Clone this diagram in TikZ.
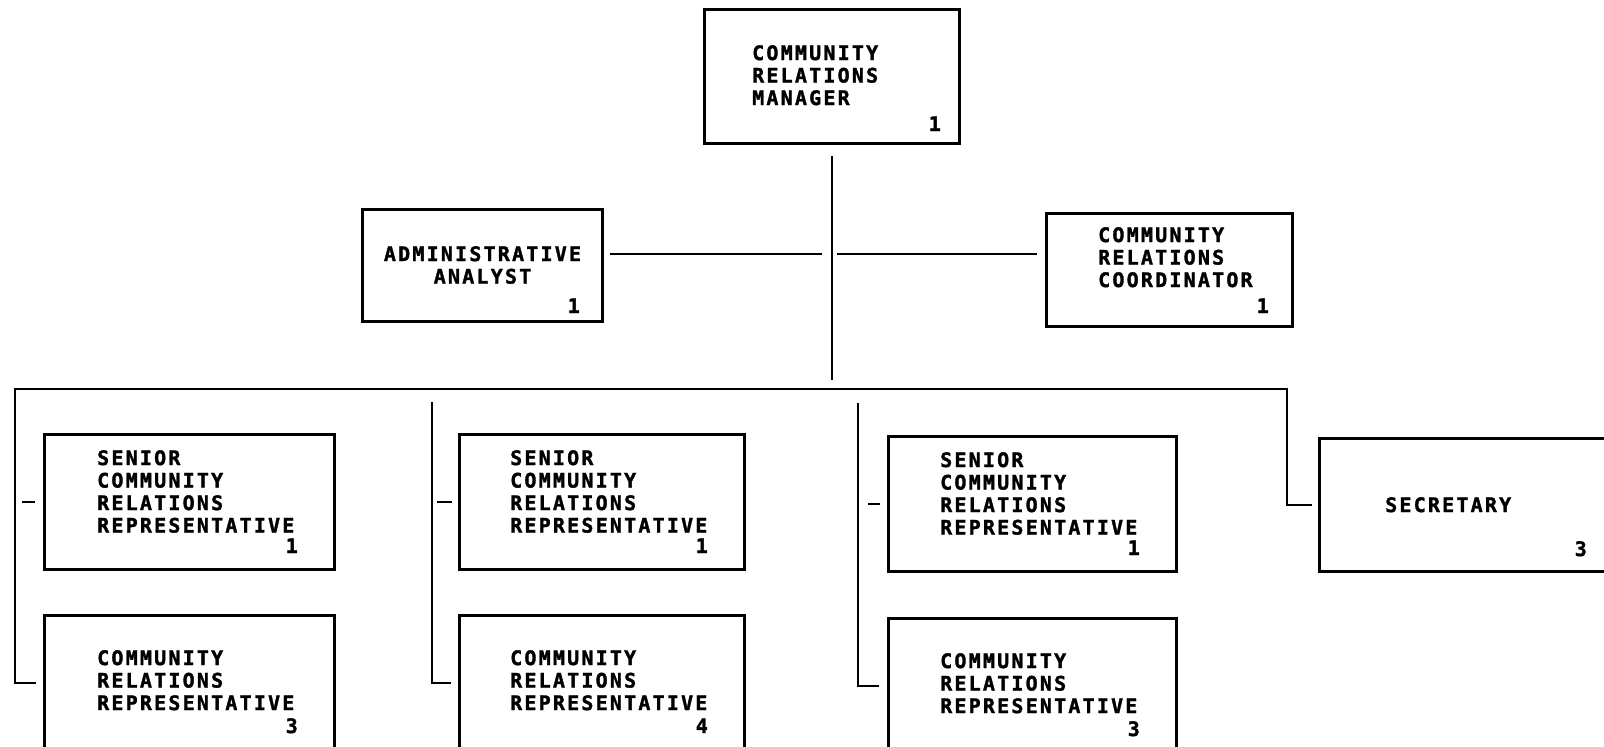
\documentclass[tikz,border=0pt]{standalone}
\usepackage{fontspec}
\newfontfamily\plotfont[LetterSpace=11, FakeBold=1.6]{DejaVu Sans Mono Bold}
\usetikzlibrary{positioning}

\begin{document}
\begin{tikzpicture}[
    x=1pt, y=-1pt,
    font=\plotfont\fontsize{20}{22.5}\selectfont,
    post/.style={draw, line width=3pt, anchor=north west, inner sep=0pt, minimum height=135pt},
    title/.style={anchor=north west, align=left, inner sep=0pt},
    cnt/.style={anchor=base east, inner sep=0pt},
    link/.style={line width=2.6pt}
]
\useasboundingbox (0,0) rectangle (1604,747);

% Manager
\node[post, minimum width=255pt, minimum height=134pt,
      label={[title, xshift=49pt, yshift=-37pt]north west:COMMUNITY\\RELATIONS\\MANAGER},
      label={[cnt, xshift=-20pt, yshift=14pt]south east:1}] (mgr) at (703,8) {};

% Staff
\node[post, minimum width=240pt, minimum height=112pt,
      label={[title, anchor=north, align=center, yshift=-38pt]north:ADMINISTRATIVE\\ANALYST},
      label={[cnt, xshift=-24pt, yshift=10pt]south east:1}] (analyst) at (361,208) {};
\node[post, minimum width=246pt, minimum height=113pt,
      label={[title, xshift=53pt, yshift=-15pt]north west:COMMUNITY\\RELATIONS\\COORDINATOR},
      label={[cnt, xshift=-25pt, yshift=15pt]south east:1}] (coord) at (1045,212) {};

% Senior representatives
\node[post, minimum width=290pt,
      label={[title, xshift=54pt, yshift=-17pt]north west:SENIOR\\COMMUNITY\\RELATIONS\\REPRESENTATIVE},
      label={[cnt, xshift=-38pt, yshift=18pt]south east:1}] (sen1) at (43,433) {};
\node[post, minimum width=285pt,
      label={[title, xshift=52pt, yshift=-17pt]north west:SENIOR\\COMMUNITY\\RELATIONS\\REPRESENTATIVE},
      label={[cnt, xshift=-38pt, yshift=18pt]south east:1}] (sen2) at (458,433) {};
\node[post, minimum width=288pt,
      label={[title, xshift=53pt, yshift=-17pt]north west:SENIOR\\COMMUNITY\\RELATIONS\\REPRESENTATIVE},
      label={[cnt, xshift=-38pt, yshift=18pt]south east:1}] (sen3) at (887,435) {};

% Representatives
\node[post, minimum width=290pt, below=43pt of sen1,
      label={[title, xshift=54pt, yshift=-36pt]north west:COMMUNITY\\RELATIONS\\REPRESENTATIVE},
      label={[cnt, xshift=-38pt, yshift=19pt]south east:3}] (rep1) {};
\node[post, minimum width=285pt, below=43pt of sen2,
      label={[title, xshift=52pt, yshift=-36pt]north west:COMMUNITY\\RELATIONS\\REPRESENTATIVE},
      label={[cnt, xshift=-38pt, yshift=19pt]south east:4}] (rep2) {};
\node[post, minimum width=288pt, below=44pt of sen3,
      label={[title, xshift=53pt, yshift=-36pt]north west:COMMUNITY\\RELATIONS\\REPRESENTATIVE},
      label={[cnt, xshift=-38pt, yshift=19pt]south east:3}] (rep3) {};

% Secretary
\node[post, minimum width=290pt, minimum height=133pt,
      label={[title, xshift=67pt, yshift=-60pt]north west:SECRETARY},
      label={[cnt, xshift=-24pt, yshift=17pt]south east:3}] (sec) at (1318,437) {};

% Lines
\coordinate (busL) at (15,389);
\coordinate (busR) at (1287,389);
\coordinate (tie) at (830,254);
\coordinate (drop2) at (432,402);
\coordinate (drop3) at (858,403);

\draw[link, shorten <=11pt, shorten >=9pt] (mgr) -- (mgr |- busL);
\draw[link, shorten <=6pt, shorten >=8pt] (analyst.east |- tie) -- (tie);
\draw[link, shorten <=7pt, shorten >=8pt] (tie) -- (coord.west |- tie);
\draw[link, shorten <=7pt, shorten >=6pt] (rep1.west) -| (busL) -- (busR) |- (sec.west);
\draw[link, shorten >=7pt] (drop2) |- (rep2.west);
\draw[link, shorten >=8pt] (drop3) |- (rep3.west);

% ticks toward the senior boxes
\draw[link, shorten <=7pt, shorten >=8pt] (sen1.west -| busL) -- (sen1.west);
\draw[link, shorten <=5pt, shorten >=6pt] (sen2.west -| drop2) -- (sen2.west);
\draw[link, shorten <=10pt, shorten >=7pt] (sen3.west -| drop3) -- (sen3.west);

\end{tikzpicture}
\end{document}
